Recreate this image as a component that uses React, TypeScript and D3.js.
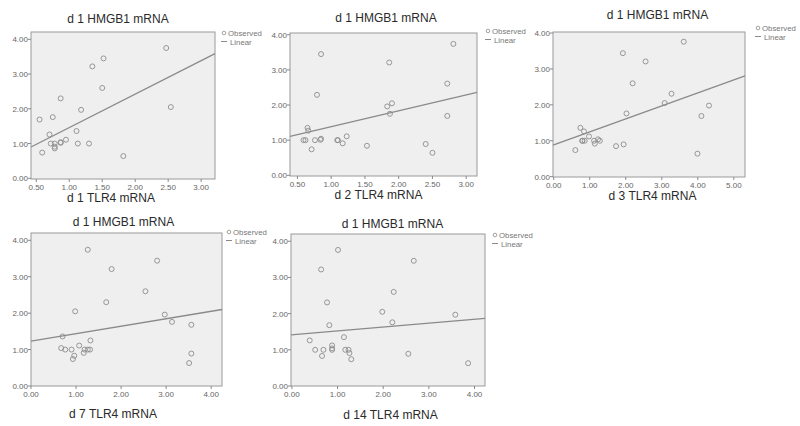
import React from "react";
import * as d3 from "d3";

// ---- data ----
const yTicks = [0, 1, 2, 3, 4];

const d1X = [0.55, 0.59, 0.70, 0.72, 0.75, 0.78, 0.78, 0.78, 0.87, 0.87, 0.87, 0.95, 1.11, 1.13, 1.18, 1.30, 1.35, 1.50, 1.52, 1.82, 2.47, 2.54];
const d1Y = [1.69, 0.74, 1.26, 1.00, 1.76, 1.00, 0.91, 0.86, 2.30, 1.02, 1.04, 1.11, 1.36, 1.00, 1.97, 1.00, 3.22, 2.60, 3.45, 0.64, 3.75, 2.05];
const d1Line = [0.90, 3.59];

const d2X = [0.59, 0.62, 0.65, 0.66, 0.71, 0.76, 0.79, 0.84, 0.85, 0.85, 1.09, 1.10, 1.17, 1.23, 1.53, 1.83, 1.86, 1.87, 1.90, 2.40, 2.50, 2.72, 2.72, 2.81];
const d2Y = [1.00, 1.00, 1.35, 1.27, 0.74, 1.00, 2.29, 1.01, 1.04, 3.45, 1.00, 1.00, 0.91, 1.11, 0.84, 1.96, 3.21, 1.75, 2.05, 0.89, 0.64, 2.61, 1.69, 3.74];
const d2Line = [1.11, 2.36];

const d3X = [0.60, 0.74, 0.79, 0.80, 0.84, 0.86, 0.98, 1.12, 1.14, 1.23, 1.28, 1.73, 1.92, 1.94, 2.02, 2.19, 2.55, 3.08, 3.27, 3.61, 3.99, 4.10, 4.31];
const d3Y = [0.74, 1.36, 1.00, 1.00, 1.26, 1.00, 1.12, 1.00, 0.92, 1.04, 1.00, 0.85, 3.44, 0.90, 1.76, 2.60, 3.21, 2.05, 2.31, 3.76, 0.64, 1.69, 1.98];
const d3Line = [0.88, 2.81];

const d7X = [0.67, 0.70, 0.76, 0.90, 0.93, 0.96, 0.98, 1.07, 1.17, 1.19, 1.26, 1.26, 1.31, 1.32, 1.67, 1.79, 2.54, 2.80, 2.97, 3.13, 3.51, 3.56, 3.56];
const d7Y = [1.04, 1.36, 1.00, 1.00, 0.74, 0.83, 2.05, 1.11, 0.91, 1.00, 3.74, 1.00, 1.00, 1.25, 2.30, 3.21, 2.60, 3.44, 1.96, 1.76, 0.63, 0.89, 1.68];
const d7Line = [1.23, 2.10];

const d14X = [0.39, 0.51, 0.64, 0.66, 0.69, 0.77, 0.82, 0.88, 0.88, 0.88, 1.01, 1.14, 1.17, 1.24, 1.26, 1.30, 1.98, 2.20, 2.23, 2.55, 2.67, 3.58, 3.86];
const d14Y = [1.26, 1.00, 3.22, 0.83, 1.00, 2.31, 1.68, 1.12, 1.04, 1.00, 3.76, 1.35, 1.00, 1.00, 0.91, 0.74, 2.05, 1.76, 2.60, 0.89, 3.46, 1.97, 0.63];
const d14Line = [1.41, 1.87];

const panelTitles = ["d 1 HMGB1 mRNA", "d 1 HMGB1 mRNA", "d 1 HMGB1 mRNA", "d 1 HMGB1 mRNA", "d 1 HMGB1 mRNA"];
const xTitles = ["d 1 TLR4 mRNA", "d 2 TLR4 mRNA", "d 3 TLR4 mRNA", "d 7 TLR4 mRNA", "d 14 TLR4 mRNA"];
const xTickSets = [
  [0.5, 1, 1.5, 2, 2.5, 3],
  [0.5, 1, 1.5, 2, 2.5, 3],
  [0, 1, 2, 3, 4, 5],
  [0, 1, 2, 3, 4],
  [0, 1, 2, 3, 4],
];
const xDomains = [
  [0.42, 3.21],
  [0.39, 3.16],
  [-0.02, 5.31],
  [0, 4.24],
  [-0.02, 4.23],
];
const yDomains = [
  [-0.02, 4.21],
  [-0.02, 4.05],
  [-0.01, 4.03],
  [0, 4.2],
  [0, 4.2],
];

const xs = [d1X, d2X, d3X, d7X, d14X];
const ysArr = [d1Y, d2Y, d3Y, d7Y, d14Y];
const lines = [d1Line, d2Line, d3Line, d7Line, d14Line];

// ---- layout ----
const boxes = [
  { l: 31, r: 215, t: 32, b: 179, titleX: 118, titleY: 22.5, xtX: 111, xtY: 201.5, legX: 222, legY: 33 },
  { l: 290, r: 477, t: 33, b: 176, titleX: 386, titleY: 21.5, xtX: 378.5, xtY: 199, legX: 486, legY: 31 },
  { l: 553, r: 745, t: 32, b: 177, titleX: 657.5, titleY: 19, xtX: 652.5, xtY: 200, legX: 756, legY: 28 },
  { l: 31, r: 222, t: 233, b: 386, titleX: 123.5, titleY: 226, xtX: 113, xtY: 417.5, legX: 227, legY: 232 },
  { l: 291, r: 485, t: 234, b: 386, titleX: 392.5, titleY: 228, xtX: 390.5, xtY: 418.5, legX: 493, legY: 235 },
];

const FONT = "'Liberation Sans', Arial, sans-serif";

function Panel({ i }: { i: number }) {
  const bx = boxes[i];
  const x = d3.scaleLinear().domain(xDomains[i]).range([bx.l, bx.r]);
  const y = d3.scaleLinear().domain(yDomains[i]).range([bx.b, bx.t]);
  const [x0, x1] = xDomains[i];
  const line = d3.line<[number, number]>().x((d) => x(d[0])).y((d) => y(d[1]));
  const linePts: [number, number][] = [
    [x0, lines[i][0]],
    [x1, lines[i][1]],
  ];
  return (
    <g>
      <rect x={bx.l} y={bx.t} width={bx.r - bx.l} height={bx.b - bx.t} fill="#efefef" stroke="#9a9a9a" strokeWidth={1} />
      <text x={bx.titleX} y={bx.titleY} textAnchor="middle" fontFamily={FONT} fontSize={12} fill="#2a2a2a">
        {panelTitles[i]}
      </text>
      <text x={bx.xtX} y={bx.xtY} textAnchor="middle" fontFamily={FONT} fontSize={12} fill="#2a2a2a">
        {xTitles[i]}
      </text>
      {yTicks.map((t) => (
        <g key={"y" + t}>
          <line x1={bx.l - 3} x2={bx.l} y1={y(t)} y2={y(t)} stroke="#888" />
          <text x={bx.l - 3} y={y(t) + 3} textAnchor="end" fontFamily={FONT} fontSize={8} fill="#666">
            {t.toFixed(2)}
          </text>
        </g>
      ))}
      {xTickSets[i].map((t) => (
        <g key={"x" + t}>
          <line x1={x(t)} x2={x(t)} y1={bx.b} y2={bx.b + 3} stroke="#888" />
          <text x={x(t)} y={bx.b + 11} textAnchor="middle" fontFamily={FONT} fontSize={8} fill="#666">
            {t.toFixed(2)}
          </text>
        </g>
      ))}
      <path d={line(linePts) || ""} stroke="#8a8a8a" strokeWidth={1.3} fill="none" />
      {xs[i].map((v, k) => (
        <circle key={k} cx={x(v)} cy={y(ysArr[i][k])} r={2.5} fill="none" stroke="#8c8c8c" strokeWidth={0.9} />
      ))}
      <circle cx={bx.legX + 2} cy={bx.legY} r={1.8} fill="none" stroke="#8c8c8c" strokeWidth={0.8} />
      <text x={bx.legX + 6} y={bx.legY + 2.8} fontFamily={FONT} fontSize={7.8} fill="#777">
        Observed
      </text>
      <line x1={bx.legX - 1} x2={bx.legX + 5} y1={bx.legY + 8.5} y2={bx.legY + 8.5} stroke="#8a8a8a" strokeWidth={1} />
      <text x={bx.legX + 8} y={bx.legY + 11.5} fontFamily={FONT} fontSize={7.8} fill="#777">
        Linear
      </text>
    </g>
  );
}

export default function App() {
  return (
    <svg width={800} height={426} style={{ position: "absolute", left: 0, top: 0, background: "#fff" }}>
      <rect width={800} height={426} fill="#fff" />
      {[0, 1, 2, 3, 4].map((i) => (
        <Panel key={i} i={i} />
      ))}
    </svg>
  );
}
